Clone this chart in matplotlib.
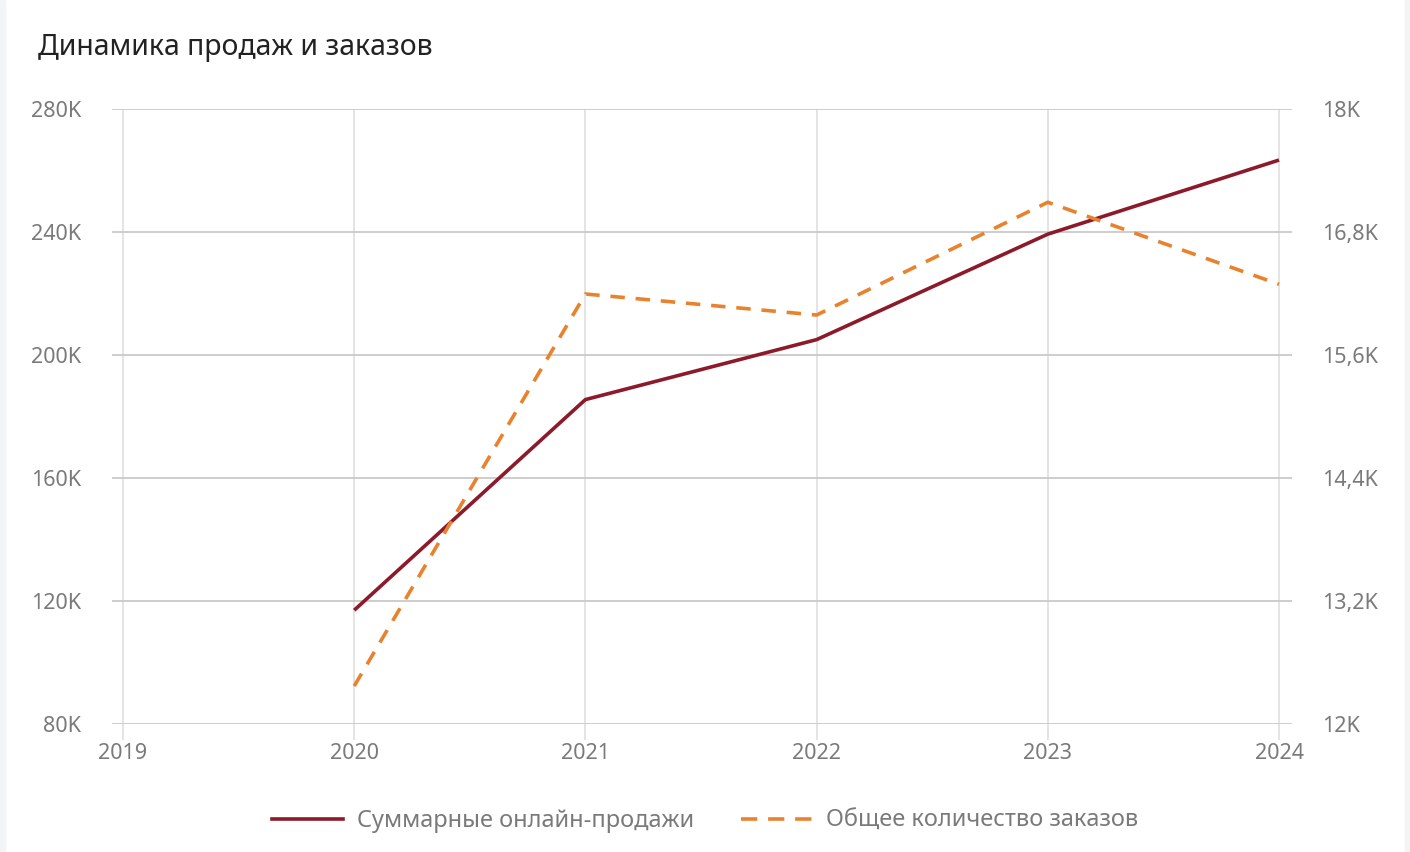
import matplotlib
matplotlib.use("Agg")
import matplotlib.pyplot as plt
from matplotlib.lines import Line2D
from matplotlib.patches import Rectangle

years = [2020, 2021, 2022, 2023, 2024]
sales = [117000, 185500, 205000, 239300, 263400]
orders = [12370, 16195, 15990, 17090, 16290]
x_ticks = [2019, 2020, 2021, 2022, 2023, 2024]
left_ticks = [80000, 120000, 160000, 200000, 240000, 280000]
left_labels = ["80K", "120K", "160K", "200K", "240K", "280K"]
right_ticks = [12000, 13200, 14400, 15600, 16800, 18000]
right_labels = ["12K", "13,2K", "14,4K", "15,6K", "16,8K", "18K"]
title = "Динамика продаж и заказов"
series_names = ["Суммарные онлайн-продажи", "Общее количество заказов"]

plt.rcParams['font.family'] = ['Noto Sans', 'DejaVu Sans']

W, H = 1410, 852
fig = plt.figure(figsize=(W / 100, H / 100), dpi=100)
fig.patch.set_facecolor("white")
# light side borders
fig.add_artist(Rectangle((0, 0), 5 / W, 1, transform=fig.transFigure, color="#f3f4f6", zorder=0))
fig.add_artist(Rectangle((1 - 5 / W, 0), 5 / W, 1, transform=fig.transFigure, color="#f3f4f6", zorder=0))

ax = fig.add_axes([112 / W, 1 - 724 / H, 1180 / W, 615 / H])
ax2 = ax.twinx()

red = "#8c1a2a"
orange = "#e8822e"
label_col = "#7a7a7a"

ax.plot(years, sales, color=red, lw=2.6, solid_capstyle="butt", zorder=3)
ax2.plot(years, orders, color=orange, lw=2.6, dashes=(4, 3), zorder=3)

px_per_year = (1279 - 123) / 5
ax.set_xlim(2019 - 11 / px_per_year, 2024 + 13 / px_per_year)
ax.set_ylim(80000, 280000)
ax2.set_ylim(12000, 18000)

ax.set_xticks(x_ticks)
ax.set_xticklabels([str(y) for y in x_ticks])
ax.set_yticks(left_ticks)
ax.set_yticklabels(left_labels)
ax2.set_yticks(right_ticks)
ax2.set_yticklabels(right_labels)

for a in (ax, ax2):
    for s in a.spines.values():
        s.set_visible(False)

ax.grid(axis="y", color="#c9c9c9", lw=1.3)
ax.grid(axis="x", color="#e2e2e2", lw=1.3)
ax.set_axisbelow(True)
ax.tick_params(axis="x", length=11.5, width=1.3, color="#e2e2e2", pad=2.5,
               labelsize=15.5, labelcolor=label_col)
ax.tick_params(axis="y", length=0, pad=22, labelsize=15.5, labelcolor=label_col)
ax2.tick_params(axis="y", length=0, pad=21.5, labelsize=15.5, labelcolor=label_col)

fig.text(38 / W, 1 - 47 / H, title, fontsize=20.5, color="#222222", ha="left", va="center")

handles = [Line2D([], [], color=red, lw=2.6),
           Line2D([], [], color=orange, lw=2.6, dashes=(4.5, 3))]
fig.legend(handles, series_names, loc="center", bbox_to_anchor=(705 / W, 1 - 821 / H),
           ncol=2, frameon=False, fontsize=17, labelcolor=label_col,
           handlelength=3.0, handletextpad=0.6, columnspacing=2.0)

fig.savefig("out.png", dpi=100)
